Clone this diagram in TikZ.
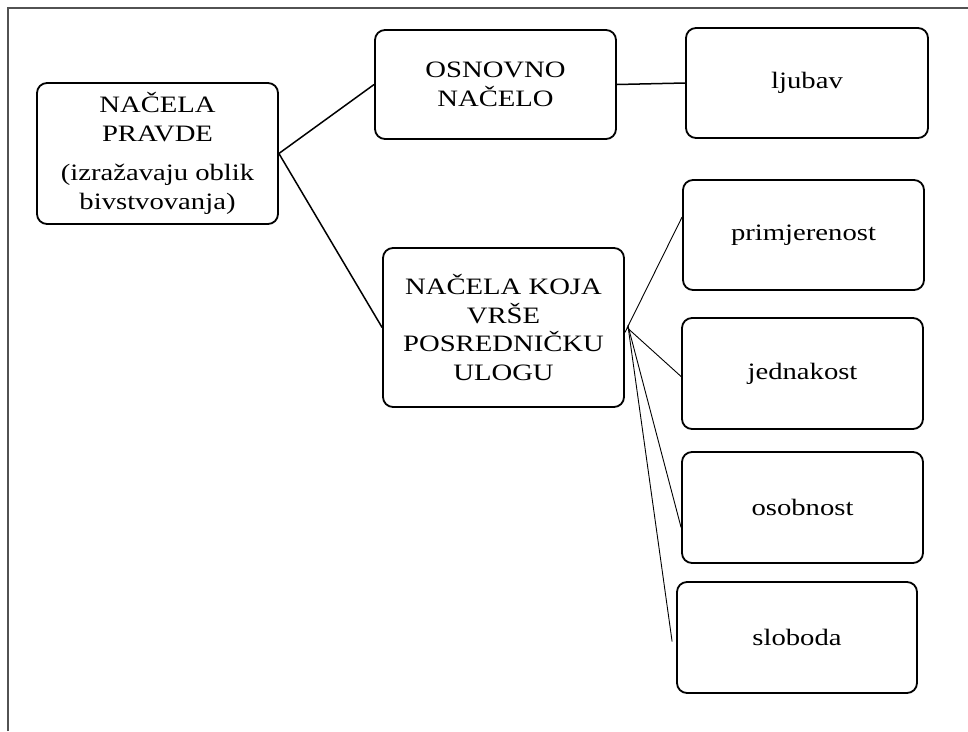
\documentclass[tikz,border=0pt]{standalone}
\usepackage{fontspec}
\setmainfont{Liberation Serif}[FakeStretch=1.22]
\begin{document}
\begin{tikzpicture}[x=1pt,y=-1pt,
  box/.style={draw=black, line width=1.8pt, rounded corners=10pt, align=center,
    inner sep=0pt, minimum width=241pt, font=\fontsize{23.5}{28.5}\selectfont},
  thick link/.style={draw=black, line width=1.5pt},
  thin link/.style={draw=black, line width=0.9pt},
  frame/.style={draw=black!68, line width=2pt}]
\useasboundingbox (0,0) rectangle (968,731);
\draw[frame] (8,731) -- (8,8) -- (968,8);

\node[box, minimum height=141pt] (root) at (157.5,153.5)
  {NAČELA\\PRAVDE\\[11pt](izražavaju oblik\\bivstvovanja)};
\node[box, minimum height=109pt] (osn) at (495.5,84.5) {OSNOVNO\\NAČELO};
\node[box, minimum width=242pt, minimum height=110pt] (lju) at (807,83) {ljubav};
\node[box, minimum height=159pt] (mid) at (503.5,327.5)
  {NAČELA KOJA\\VRŠE\\POSREDNIČKU\\ULOGU};
\node[box, minimum height=110pt] (pri) at (803.5,235) {primjerenost};
\node[box, minimum height=111pt] (jed) at (802.5,373.5) {jednakost};
\node[box, minimum height=111pt] (oso) at (802.5,507.5) {osobnost};
\node[box, minimum width=240pt, minimum height=111pt] (slo) at (797,637.5) {sloboda};

\draw[thick link] (root.east) -- (osn.west);
\draw[thick link] (root.east) -- (mid.west);
\draw[thick link] (osn.east) -- (lju.west);
\draw[thin link] ([yshift=-5pt]mid.east) -- ([yshift=18pt]pri.west);
\draw[thin link] ([xshift=2pt]mid.east) -- ([yshift=-3pt]jed.west);
\draw[thin link] ([xshift=3pt,yshift=2pt]mid.east) -- ([yshift=-20pt]oso.west);
\draw[thin link] ([xshift=3pt,yshift=2pt]mid.east) -- ([xshift=-4pt,yshift=-4pt]slo.west);
\end{tikzpicture}
\end{document}
